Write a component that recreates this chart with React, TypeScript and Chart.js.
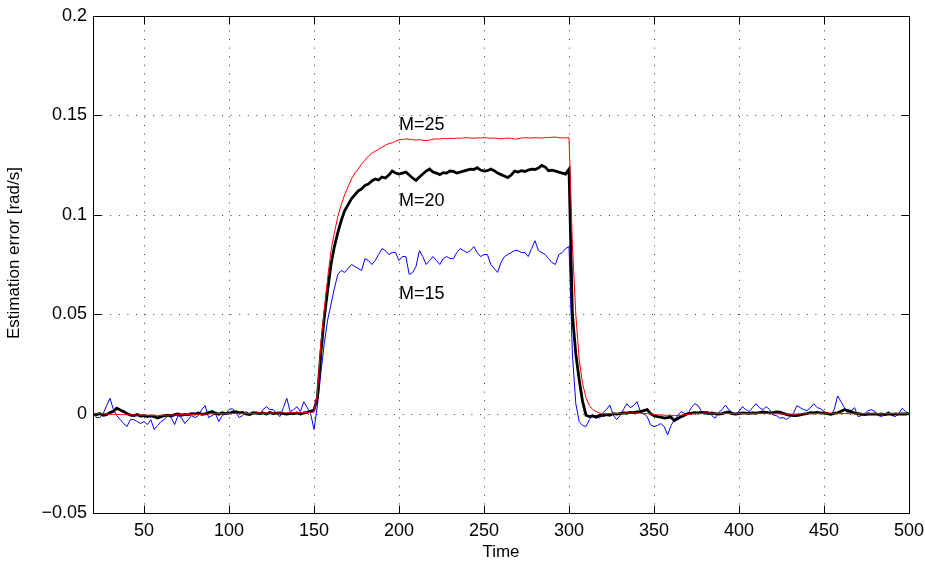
import React, { useEffect, useRef } from 'react';
import { Chart, registerables } from 'chart.js';

Chart.register(...registerables);

// Time samples (every 2 time units)
const time: number[] = [
  20, 22, 24, 26, 28, 30, 32, 34, 36, 38,
  40, 42, 44, 46, 48, 50, 52, 54, 56, 58,
  60, 62, 64, 66, 68, 70, 72, 74, 76, 78,
  80, 82, 84, 86, 88, 90, 92, 94, 96, 98,
  100, 102, 104, 106, 108, 110, 112, 114, 116, 118,
  120, 122, 124, 126, 128, 130, 132, 134, 136, 138,
  140, 142, 144, 146, 148, 150, 152, 154, 156, 158,
  160, 162, 164, 166, 168, 170, 172, 174, 176, 178,
  180, 182, 184, 186, 188, 190, 192, 194, 196, 198,
  200, 202, 204, 206, 208, 210, 212, 214, 216, 218,
  220, 222, 224, 226, 228, 230, 232, 234, 236, 238,
  240, 242, 244, 246, 248, 250, 252, 254, 256, 258,
  260, 262, 264, 266, 268, 270, 272, 274, 276, 278,
  280, 282, 284, 286, 288, 290, 292, 294, 296, 298,
  300, 302, 304, 306, 308, 310, 312, 314, 316, 318,
  320, 322, 324, 326, 328, 330, 332, 334, 336, 338,
  340, 342, 344, 346, 348, 350, 352, 354, 356, 358,
  360, 362, 364, 366, 368, 370, 372, 374, 376, 378,
  380, 382, 384, 386, 388, 390, 392, 394, 396, 398,
  400, 402, 404, 406, 408, 410, 412, 414, 416, 418,
  420, 422, 424, 426, 428, 430, 432, 434, 436, 438,
  440, 442, 444, 446, 448, 450, 452, 454, 456, 458,
  460, 462, 464, 466, 468, 470, 472, 474, 476, 478,
  480, 482, 484, 486, 488, 490, 492, 494, 496, 498,
  500,
];

// M=25 (red, thin)
const errM25: number[] = [
  0.0, 0.0, -0.0001, -0.0002, -0.0002, -0.0003, -0.0003, -0.0004, -0.0005, -0.0005,
  -0.0006, -0.0006, -0.0007, -0.0007, -0.0008, -0.0008, -0.0008, -0.0009, -0.0009, -0.0009,
  -0.0009, -0.0008, -0.0008, -0.0007, -0.0007, -0.0006, -0.0006, -0.0005, -0.0005, -0.0004,
  -0.0004, -0.0003, -0.0003, -0.0002, -0.0002, -0.0001, -0.0001, 0.0, 0.0, 0.0,
  0.0, 0.0001, 0.0, 0.0001, 0.0001, 0.0002, 0.0001, 0.0002, 0.0002, 0.0003,
  0.0002, 0.0003, 0.0003, 0.0002, 0.0003, 0.0004, 0.0003, 0.0004, 0.0004, 0.0005,
  0.0004, 0.0005, 0.0005, 0.0006, 0.0006, 0.0007, 0.01, 0.035, 0.052, 0.068,
  0.082, 0.091, 0.099, 0.105, 0.11, 0.114, 0.118, 0.121, 0.123, 0.1255,
  0.1275, 0.1295, 0.131, 0.132, 0.133, 0.134, 0.135, 0.1358, 0.1362, 0.137,
  0.1377, 0.1378, 0.1382, 0.138, 0.1378, 0.1376, 0.1378, 0.1375, 0.1373, 0.1376,
  0.138, 0.1382, 0.1381, 0.1384, 0.1383, 0.1385, 0.1383, 0.1386, 0.1385, 0.1387,
  0.1388, 0.1386, 0.1385, 0.1387, 0.1386, 0.1388, 0.1387, 0.1385, 0.1386, 0.1384,
  0.1382, 0.1384, 0.1386, 0.1385, 0.138, 0.1383, 0.1386, 0.1388, 0.1387, 0.1386,
  0.1388, 0.1387, 0.1386, 0.1388, 0.1389, 0.139, 0.1391, 0.1388, 0.1387, 0.1387,
  0.1388, 0.085, 0.05, 0.027, 0.015, 0.008, 0.004, 0.002, 0.001, 0.0003,
  0.0, -0.0001, 0.0, 0.0001, 0.0, 0.0001, 0.0002, 0.0002, 0.0003, 0.0003,
  0.0003, 0.0002, 0.0001, 0.0, -0.0002, -0.0004, -0.0006, -0.0007, -0.0008, -0.0009,
  -0.001, -0.001, -0.0009, -0.0008, -0.0006, -0.0004, -0.0002, 0.0, 0.0001, 0.0002,
  0.0002, 0.0003, 0.0002, 0.0002, 0.0001, 0.0001, 0.0, 0.0001, 0.0, 0.0,
  0.0, 0.0001, 0.0, 0.0, 0.0001, 0.0001, 0.0002, 0.0001, 0.0001, 0.0,
  0.0, -0.0001, -0.0002, -0.0002, -0.0003, -0.0003, -0.0003, -0.0002, -0.0002, -0.0001,
  -0.0001, 0.0, 0.0, 0.0001, 0.0001, 0.0002, 0.0002, 0.0002, 0.0001, 0.0001,
  0.0001, 0.0, 0.0, -0.0001, -0.0001, -0.0001, 0.0, 0.0, 0.0, 0.0,
  0.0, -0.0001, -0.0001, 0.0, 0.0, 0.0, 0.0, -0.0001, 0.0, 0.0,
  0.0,
];

// M=20 (black, thick)
const errM20: number[] = [
  -0.0003, -0.0005, 0.0, -0.0008, -0.0005, 0.0005, 0.0012, 0.0027, 0.0018, 0.001,
  0.0, -0.0008, -0.001, -0.0005, -0.0012, -0.001, -0.0015, -0.0012, -0.0015, -0.0022,
  -0.0015, -0.001, -0.0008, -0.0012, -0.0005, -0.0002, -0.0008, -0.0004, -0.0006, 0.0,
  -0.0002, 0.0003, -0.0004, -0.0002, 0.0005, 0.001, 0.0002, -0.0003, 0.0004, 0.0,
  0.0002, 0.0008, 0.001, 0.0004, 0.0006, -0.0002, -0.0005, 0.0002, 0.0004, 0.0,
  0.0003, -0.0002, 0.0005, 0.0, 0.0002, 0.0004, 0.0, -0.0003, 0.0001, 0.0,
  0.0003, -0.0002, 0.0004, 0.0006, 0.0012, 0.0018, 0.008, 0.03, 0.048, 0.062,
  0.075, 0.084, 0.091, 0.097, 0.102, 0.105, 0.108, 0.11, 0.112, 0.113,
  0.1148, 0.1155, 0.117, 0.118, 0.1175, 0.119, 0.1185, 0.12, 0.122, 0.121,
  0.1205, 0.121, 0.1215, 0.12, 0.1185, 0.1173, 0.119, 0.1205, 0.122, 0.123,
  0.1215, 0.121, 0.1202, 0.1212, 0.121, 0.122, 0.1218, 0.121, 0.1215, 0.122,
  0.1225, 0.123, 0.1228, 0.1237, 0.1225, 0.122, 0.1222, 0.123, 0.1222, 0.121,
  0.1202, 0.1195, 0.1187, 0.12, 0.122, 0.1215, 0.1222, 0.1218, 0.1225, 0.123,
  0.1228, 0.1235, 0.1248, 0.124, 0.1222, 0.1225, 0.122, 0.1215, 0.121, 0.1205,
  0.123, 0.05, 0.03, 0.017, 0.006, -0.0008, -0.0015, -0.0012, -0.0018, -0.0008,
  -0.001, -0.0005, -0.0008, 0.0, -0.0003, 0.0, 0.0003, 0.0002, 0.0006, 0.0005,
  0.0008, 0.001, 0.0015, 0.002, 0.0, -0.001, -0.0015, -0.0018, -0.0023, -0.002,
  -0.0018, -0.0035, -0.0025, -0.0015, -0.0008, 0.0, 0.0002, 0.0005, 0.0003, 0.0006,
  0.0004, 0.0, 0.0003, 0.0, -0.0003, 0.0, 0.0005, 0.0008, 0.0, -0.0002,
  0.0, 0.0004, 0.0002, 0.0001, 0.0003, 0.0002, 0.0005, 0.0008, 0.0006, 0.0003,
  0.0005, 0.0008, 0.0007, 0.0002, -0.0005, -0.0008, -0.001, -0.001, -0.0006, -0.0003,
  0.0, 0.0005, 0.0003, 0.0006, 0.0002, 0.0004, 0.0, -0.0004, 0.0001, 0.0004,
  0.0012, 0.002, 0.0015, 0.001, 0.0002, 0.0, -0.0003, -0.0005, -0.0002, -0.0003,
  -0.0001, -0.0004, -0.0002, -0.0005, -0.0001, -0.0004, -0.0002, -0.0003, -0.0001, -0.0002,
  0.0,
];

// M=15 (blue, thin)
const errM15: number[] = [
  0.001, -0.002, -0.002, 0.0, 0.004, 0.0077, 0.002, -0.001, -0.003, -0.005,
  -0.0065, -0.003, -0.003, -0.004, -0.005, -0.004, -0.0055, -0.003, -0.008, -0.006,
  -0.004, -0.003, -0.001, -0.002, -0.0055, -0.001, -0.002, -0.005, -0.003, -0.001,
  -0.002, -0.001, 0.002, 0.004, -0.002, -0.001, 0.0, -0.004, -0.001, 0.0,
  0.002, 0.0025, 0.0005, -0.002, -0.001, 0.001, 0.0, 0.001, 0.0005, -0.0005,
  0.002, 0.0035, 0.002, 0.002, 0.0, -0.0015, 0.003, 0.0077, 0.001, 0.002,
  0.0035, 0.001, 0.006, 0.003, 0.0, -0.008, 0.004, 0.02, 0.035, 0.047,
  0.055, 0.063, 0.07, 0.072, 0.071, 0.073, 0.075, 0.074, 0.073, 0.072,
  0.078, 0.077, 0.075, 0.077, 0.08, 0.083, 0.082, 0.08, 0.081, 0.081,
  0.077, 0.079, 0.079, 0.07, 0.071, 0.074, 0.082, 0.079, 0.075, 0.077,
  0.079, 0.077, 0.075, 0.078, 0.079, 0.078, 0.078, 0.081, 0.083, 0.082,
  0.081, 0.082, 0.084, 0.081, 0.079, 0.08, 0.08, 0.075, 0.073, 0.071,
  0.076, 0.079, 0.08, 0.081, 0.082, 0.082, 0.081, 0.081, 0.079, 0.083,
  0.087, 0.082, 0.081, 0.08, 0.078, 0.076, 0.075, 0.08, 0.081, 0.083,
  0.084, 0.03, 0.005, -0.004, -0.006, -0.0065, -0.003, -0.001, -0.001, -0.0023,
  0.0005, 0.002, 0.0043, -0.0007, -0.003, -0.001, 0.002, 0.005, 0.003, 0.004,
  0.006, 0.001, 0.0, -0.0015, -0.0057, -0.0065, -0.006, -0.005, -0.0065, -0.0107,
  -0.006, -0.003, -0.001, 0.001, 0.0, 0.0, 0.003, 0.005, 0.004, 0.001,
  0.0008, 0.001, -0.001, -0.0023, 0.0005, 0.002, 0.0043, 0.002, 0.0005, 0.0,
  0.001, 0.0035, 0.002, 0.001, 0.003, 0.005, 0.003, 0.002, 0.0035, 0.002,
  -0.0007, -0.001, -0.0023, -0.002, -0.003, -0.0015, 0.0, 0.004, 0.003, 0.002,
  0.0015, 0.003, 0.005, 0.003, 0.0025, 0.001, 0.0, -0.0007, 0.002, 0.0089,
  0.006, 0.003, 0.0, 0.0015, 0.003, -0.0015, -0.001, 0.0, 0.0015, 0.002,
  0.001, -0.001, -0.0015, 0.0, 0.001, -0.001, -0.0015, 0.0, 0.0027, 0.001,
  0.0,
];

const xTicks: number[] = [50, 100, 150, 200, 250, 300, 350, 400, 450, 500];
const yTicks: number[] = [-0.05, 0, 0.05, 0.1, 0.15, 0.2];
const yTickLabels: string[] = ['\u22120.05', '0', '0.05', '0.1', '0.15', '0.2'];

const xTitle = 'Time';
const yTitle = 'Estimation error [rad/s]';

const seriesLabels: string[] = ['M=25', 'M=20', 'M=15'];
const labelX: number[] = [200, 200, 200];
const labelY: number[] = [0.145, 0.107, 0.06];

const FONT = '"Liberation Sans", Arial, Helvetica, sans-serif';

const framePlugin = {
  id: 'matlabFrame',
  beforeDatasetsDraw(chart: any) {
    const { ctx, chartArea: a, scales } = chart;
    const xs = scales.x;
    const ys = scales.y;
    ctx.save();
    ctx.strokeStyle = '#3a3a3a';
    ctx.lineWidth = 1;
    ctx.setLineDash([1, 7.6]);
    for (const v of xTicks) {
      const px = Math.round(xs.getPixelForValue(v)) + 0.5;
      if (px > a.right - 2) continue;
      ctx.beginPath();
      ctx.moveTo(px, a.bottom);
      ctx.lineTo(px, a.top);
      ctx.stroke();
    }
    for (const v of yTicks) {
      const py = Math.round(ys.getPixelForValue(v)) + 0.5;
      if (py < a.top + 2 || py > a.bottom - 2) continue;
      ctx.beginPath();
      ctx.moveTo(a.left, py);
      ctx.lineTo(a.right, py);
      ctx.stroke();
    }
    ctx.restore();
  },
  afterDatasetsDraw(chart: any) {
    const { ctx, chartArea: a, scales } = chart;
    const xs = scales.x;
    const ys = scales.y;
    const L = Math.round(a.left) + 0.5;
    const R = Math.round(a.right) + 0.5;
    const T = Math.round(a.top) + 0.5;
    const B = Math.round(a.bottom) + 0.5;
    ctx.save();
    ctx.setLineDash([]);
    ctx.strokeStyle = '#000';
    ctx.lineWidth = 1;
    ctx.strokeRect(L, T, R - L, B - T);
    const tl = 8;
    ctx.beginPath();
    for (const v of xTicks) {
      const px = Math.round(xs.getPixelForValue(v)) + 0.5;
      ctx.moveTo(px, B);
      ctx.lineTo(px, B - tl);
      ctx.moveTo(px, T);
      ctx.lineTo(px, T + tl);
    }
    for (const v of yTicks) {
      const py = Math.round(ys.getPixelForValue(v)) + 0.5;
      ctx.moveTo(L, py);
      ctx.lineTo(L + tl, py);
      ctx.moveTo(R, py);
      ctx.lineTo(R - tl, py);
    }
    ctx.stroke();

    ctx.fillStyle = '#000';
    ctx.font = '18px ' + FONT;
    ctx.textAlign = 'left';
    ctx.textBaseline = 'middle';
    for (let i = 0; i < seriesLabels.length; i++) {
      ctx.fillText(seriesLabels[i], xs.getPixelForValue(labelX[i]), ys.getPixelForValue(labelY[i]));
    }

    // y axis title (MATLAB places it slightly above centre)
    ctx.font = '17px ' + FONT;
    ctx.textAlign = 'center';
    ctx.textBaseline = 'middle';
    ctx.translate(14, 253);
    ctx.rotate(-Math.PI / 2);
    ctx.fillText(yTitle, 0, 0);
    ctx.restore();
  },
};

export default function App() {
  const canvasRef = useRef<HTMLCanvasElement | null>(null);

  useEffect(() => {
    const canvas = canvasRef.current;
    if (!canvas) return;
    Chart.defaults.font.family = FONT;
    Chart.defaults.color = '#000';

    const mk = (ys: number[]) => time.map((t, i) => ({ x: t, y: ys[i] }));

    const chart = new Chart(canvas, {
      type: 'line',
      data: {
        datasets: [
          {
            label: 'M=25',
            data: mk(errM25),
            borderColor: '#ff0000',
            borderWidth: 1,
            pointRadius: 0,
            tension: 0,
            fill: false,
          },
          {
            label: 'M=20',
            data: mk(errM20),
            borderColor: '#000000',
            borderWidth: 2.8,
            pointRadius: 0,
            tension: 0,
            fill: false,
          },
          {
            label: 'M=15',
            data: mk(errM15),
            borderColor: '#0000ff',
            borderWidth: 1,
            pointRadius: 0,
            tension: 0,
            fill: false,
          },
        ],
      },
      options: {
        animation: false,
        responsive: false,
        devicePixelRatio: 1,
        layout: { padding: { top: 16, right: 16, left: 0, bottom: 0 } },
        plugins: {
          legend: { display: false },
          tooltip: { enabled: false },
          title: { display: false },
        },
        scales: {
          x: {
            type: 'linear',
            min: 20,
            max: 500,
            afterBuildTicks: (s: any) => {
              s.ticks = xTicks.map((v) => ({ value: v }));
            },
            afterFit: (s: any) => {
              s.height = 51;
              s.paddingLeft = 0;
              s.paddingRight = 0;
            },
            grid: { display: false, drawTicks: false, tickLength: 0 },
            border: { display: false },
            ticks: {
              autoSkip: false,
              maxRotation: 0,
              padding: 7,
              font: { size: 18 },
              color: '#000',
              callback: (v: any) => String(v),
            },
            title: {
              display: true,
              text: xTitle,
              font: { size: 17 },
              color: '#000',
              padding: { top: 0, bottom: 1 },
            },
          },
          y: {
            type: 'linear',
            min: -0.05,
            max: 0.2,
            afterBuildTicks: (s: any) => {
              s.ticks = yTicks.map((v) => ({ value: v }));
            },
            afterFit: (s: any) => {
              s.width = 93;
              s.paddingTop = 0;
              s.paddingBottom = 0;
            },
            grid: { display: false, drawTicks: false, tickLength: 0 },
            border: { display: false },
            ticks: {
              autoSkip: false,
              padding: 6,
              font: { size: 18 },
              color: '#000',
              callback: (v: any) => {
                const idx = yTicks.indexOf(v);
                return idx >= 0 ? yTickLabels[idx] : '';
              },
            },
            title: { display: false },
          },
        },
      },
      plugins: [framePlugin],
    });

    return () => {
      chart.destroy();
    };
  }, []);

  return (
    <div style={{ position: 'absolute', left: 0, top: 0, width: 925, height: 564, background: '#fff' }}>
      <canvas ref={canvasRef} width={925} height={564} style={{ display: 'block' }} />
    </div>
  );
}
